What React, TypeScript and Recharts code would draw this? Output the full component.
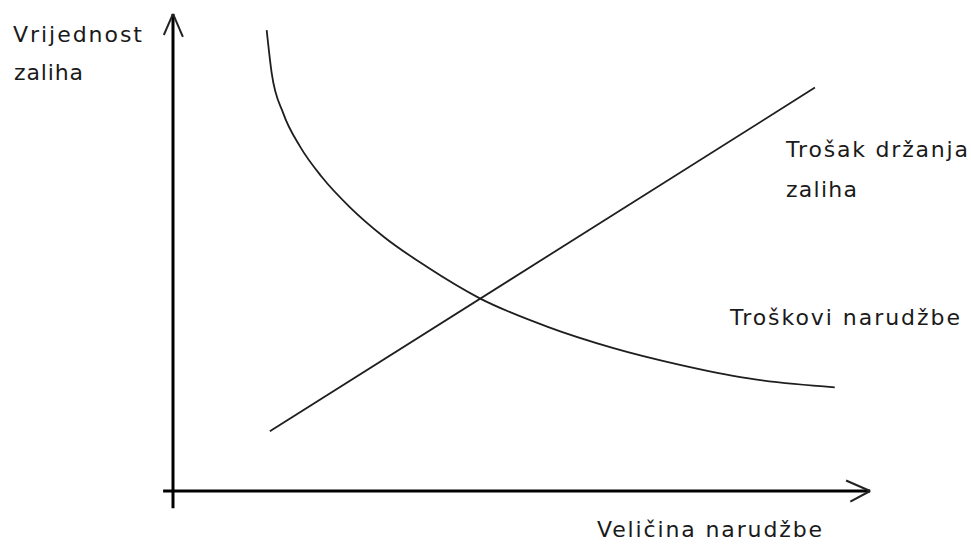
import React from 'react';
import { ComposedChart, Line, XAxis, YAxis, ReferenceLine, Customized } from 'recharts';

// Ordering cost curve ("Troškovi narudžbe")
const orderSize = [13.25, 13.96, 15.6, 18.0, 21.0, 25.0, 29.8, 35.9, 43.4, 52.9, 62.3, 71.7, 81.2, 93.6];
const orderingCost = [96.4, 87.4, 79.0, 72.0, 65.8, 59.4, 53.2, 46.9, 40.3, 34.4, 29.9, 26.4, 23.6, 21.7];

// Holding cost line ("Trošak držanja zaliha")
const holdingSize = [13.7, 90.8];
const holdingCost = [12.5, 84.4];

// Texts
const yAxisTitle = ['Vrijednost', 'zaliha'];
const xAxisTitle = 'Veličina narudžbe';
const holdingLabel = ['Trošak držanja', 'zaliha'];
const orderingLabel = 'Troškovi narudžbe';

const orderingData = orderSize.map((x, i) => ({ x, cost: orderingCost[i] }));
const holdingData = holdingSize.map((x, i) => ({ x, cost: holdingCost[i] }));

const W = 971;
const H = 544;
const MARGIN = { top: 13, right: 91, bottom: 53, left: 173 };

const textLayout = [
  { text: yAxisTitle[0], x: 13, y: 42, w: 129 },
  { text: yAxisTitle[1], x: 14, y: 80, w: 69 },
  { text: holdingLabel[0], x: 786, y: 157, w: 182 },
  { text: holdingLabel[1], x: 786, y: 197, w: 71 },
  { text: orderingLabel, x: 730, y: 325, w: 230 },
  { text: xAxisTitle, x: 597, y: 537, w: 225 },
];

const Labels = () => (
  <g fontFamily="DejaVu Sans, Verdana, sans-serif" fontSize={22} fill="#1a1a1a">
    {textLayout.map((t, i) => (
      <text key={i} x={t.x} y={t.y} textLength={t.w} lengthAdjust="spacing">
        {t.text}
      </text>
    ))}
  </g>
);

const axisStroke = { stroke: '#000', strokeWidth: 3 };
const arrowStroke = { stroke: '#222', strokeWidth: 2 };

export default function App() {
  return (
    <div style={{ position: 'absolute', left: 0, top: 0, width: W, height: H, background: '#fff' }}>
      <ComposedChart width={W} height={H} margin={MARGIN}>
        <XAxis type="number" dataKey="x" domain={[0, 100]} hide allowDataOverflow />
        <YAxis type="number" dataKey="cost" domain={[0, 100]} hide allowDataOverflow />
        {/* axes drawn as segments */}
        <ReferenceLine segment={[{ x: -1.4, y: 0 }, { x: 98.6, y: 0 }]} ifOverflow="visible" {...axisStroke} />
        <ReferenceLine segment={[{ x: 0, y: -3.6 }, { x: 0, y: 99.8 }]} ifOverflow="visible" {...axisStroke} />
        {/* arrow heads */}
        <ReferenceLine segment={[{ x: 95.2, y: 2.2 }, { x: 98.6, y: 0 }]} ifOverflow="visible" {...arrowStroke} />
        <ReferenceLine segment={[{ x: 95.8, y: -2.2 }, { x: 98.6, y: 0 }]} ifOverflow="visible" {...arrowStroke} />
        <ReferenceLine segment={[{ x: -1.3, y: 95.4 }, { x: 0, y: 99.8 }]} ifOverflow="visible" {...arrowStroke} />
        <ReferenceLine segment={[{ x: 1.4, y: 95.0 }, { x: 0, y: 99.8 }]} ifOverflow="visible" {...arrowStroke} />
        <Line
          data={orderingData}
          dataKey="cost"
          type="monotone"
          stroke="#1e1e1e"
          strokeWidth={1.8}
          dot={false}
          isAnimationActive={false}
        />
        <Line
          data={holdingData}
          dataKey="cost"
          type="linear"
          stroke="#1e1e1e"
          strokeWidth={1.8}
          dot={false}
          isAnimationActive={false}
        />
        <Customized component={Labels} />
      </ComposedChart>
    </div>
  );
}
